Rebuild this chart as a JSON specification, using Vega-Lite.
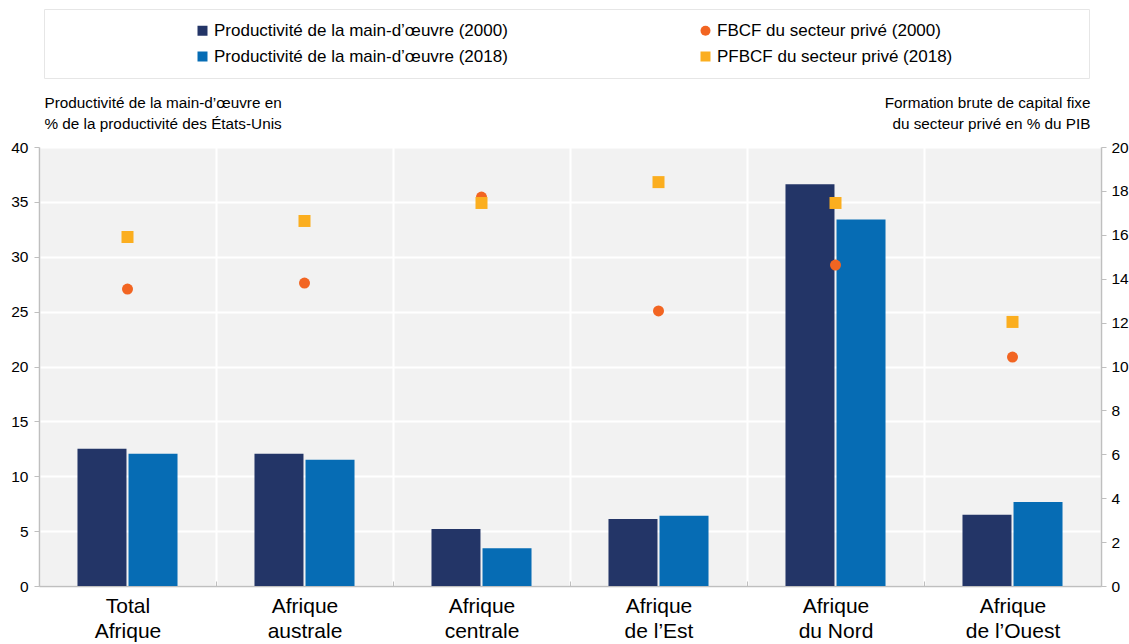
{
  "$schema": "https://vega.github.io/schema/vega-lite/v6.json",
  "width": 1062,
  "height": 439,
  "autosize": "none",
  "padding": {"left": 39, "top": 147, "right": 28, "bottom": 58},
  "background": "white",
  "config": {
    "font": "Liberation Sans, Arial, sans-serif",
    "view": {"fill": "#f2f2f2", "stroke": null},
    "axis": {"labelColor": "#000000", "titleColor": "#000000", "titleFontWeight": "normal", "domainColor": "#bfbfbf", "tickColor": "#bfbfbf", "domainWidth": 1.5}
  },
  "datasets": {
    "bars": [
      {"region": "Total Afrique", "series": "Productivité de la main-d’œuvre (2000)", "value": 12.5},
      {"region": "Total Afrique", "series": "Productivité de la main-d’œuvre (2018)", "value": 12.05},
      {"region": "Afrique australe", "series": "Productivité de la main-d’œuvre (2000)", "value": 12.05},
      {"region": "Afrique australe", "series": "Productivité de la main-d’œuvre (2018)", "value": 11.5},
      {"region": "Afrique centrale", "series": "Productivité de la main-d’œuvre (2000)", "value": 5.2},
      {"region": "Afrique centrale", "series": "Productivité de la main-d’œuvre (2018)", "value": 3.45},
      {"region": "Afrique de l’Est", "series": "Productivité de la main-d’œuvre (2000)", "value": 6.1},
      {"region": "Afrique de l’Est", "series": "Productivité de la main-d’œuvre (2018)", "value": 6.4},
      {"region": "Afrique du Nord", "series": "Productivité de la main-d’œuvre (2000)", "value": 36.6},
      {"region": "Afrique du Nord", "series": "Productivité de la main-d’œuvre (2018)", "value": 33.4},
      {"region": "Afrique de l’Ouest", "series": "Productivité de la main-d’œuvre (2000)", "value": 6.5},
      {"region": "Afrique de l’Ouest", "series": "Productivité de la main-d’œuvre (2018)", "value": 7.65}
    ],
    "points": [
      {"region": "Total Afrique", "series": "FBCF du secteur privé (2000)", "value": 13.53},
      {"region": "Afrique australe", "series": "FBCF du secteur privé (2000)", "value": 13.8},
      {"region": "Afrique centrale", "series": "FBCF du secteur privé (2000)", "value": 17.72},
      {"region": "Afrique de l’Est", "series": "FBCF du secteur privé (2000)", "value": 12.53},
      {"region": "Afrique du Nord", "series": "FBCF du secteur privé (2000)", "value": 14.62},
      {"region": "Afrique de l’Ouest", "series": "FBCF du secteur privé (2000)", "value": 10.43},
      {"region": "Total Afrique", "series": "PFBCF du secteur privé (2018)", "value": 15.9},
      {"region": "Afrique australe", "series": "PFBCF du secteur privé (2018)", "value": 16.63},
      {"region": "Afrique centrale", "series": "PFBCF du secteur privé (2018)", "value": 17.45},
      {"region": "Afrique de l’Est", "series": "PFBCF du secteur privé (2018)", "value": 18.4},
      {"region": "Afrique du Nord", "series": "PFBCF du secteur privé (2018)", "value": 17.45},
      {"region": "Afrique de l’Ouest", "series": "PFBCF du secteur privé (2018)", "value": 12.03}
    ]
  },
  "layer": [
    {
      "data": {"name": "bars"},
      "mark": {"type": "bar"},
      "encoding": {
        "x": {
          "field": "region", "type": "nominal",
          "sort": ["Total Afrique", "Afrique australe", "Afrique centrale", "Afrique de l’Est", "Afrique du Nord", "Afrique de l’Ouest"],
          "scale": {"paddingInner": 0, "paddingOuter": 0},
          "axis": {
            "title": null, "labelAngle": 0, "labelFontSize": 21, "labelLineHeight": 25,
            "labelExpr": "[slice(datum.label, 0, indexof(datum.label, ' ')), slice(datum.label, indexof(datum.label, ' ') + 1)]",
            "tickBand": "extent", "grid": true, "gridColor": "white", "gridWidth": 2,
            "tickSize": -5, "labelPadding": 14, "labelBaseline": "top"
          }
        },
        "xOffset": {
          "field": "series", "type": "nominal",
          "sort": ["Productivité de la main-d’œuvre (2000)", "Productivité de la main-d’œuvre (2018)"],
          "scale": {"paddingInner": 0.04, "paddingOuter": 0.754}
        },
        "y": {
          "field": "value", "type": "quantitative",
          "scale": {"domain": [0, 40]},
          "axis": {
            "values": [0, 5, 10, 15, 20, 25, 30, 35, 40],
            "grid": true, "gridColor": "white", "gridWidth": 2,
            "labelFontSize": 15.5, "tickSize": 5, "labelPadding": 6,
            "title": ["Productivité de la main-d’œuvre en", "% de la productivité des États-Unis"],
            "titleAngle": 0, "titleAlign": "left", "titleBaseline": "top",
            "titleX": 5, "titleY": -52, "titleFontSize": 15.3, "titleLineHeight": 21
          }
        },
        "color": {
          "field": "series", "type": "nominal",
          "scale": {
            "domain": ["Productivité de la main-d’œuvre (2000)", "Productivité de la main-d’œuvre (2018)", "FBCF du secteur privé (2000)", "PFBCF du secteur privé (2018)"],
            "range": ["#233567", "#066cb4", "#f26522", "#fbae1f"]
          },
          "legend": {
            "orient": "none", "legendX": 5, "legendY": -138,
            "columns": 2, "title": null, "gridAlign": "each",
            "labelExpr": "indexof(datum.label, 'FBCF') >= 0 ? datum.label + '\u00a0\u00a0\u00a0\u00a0\u00a0\u00a0\u00a0\u00a0\u00a0\u00a0\u00a0\u00a0\u00a0\u00a0\u00a0\u00a0\u00a0\u00a0\u00a0\u00a0\u00a0\u00a0\u00a0\u00a0\u00a0\u00a0\u200b' : datum.label",
            "symbolOffset": 137, "columnPadding": 52, "rowPadding": 8, "padding": 13,
            "strokeColor": "#e6e6e6", "fillColor": "white",
            "labelFontSize": 17, "labelLimit": 700, "labelOffset": 3,
            "symbolSize": 100, "symbolStrokeWidth": 0
          }
        }
      }
    },
    {
      "data": {"name": "points"},
      "mark": {"type": "point", "filled": true, "opacity": 1},
      "encoding": {
        "x": {
          "field": "region", "type": "nominal",
          "sort": ["Total Afrique", "Afrique australe", "Afrique centrale", "Afrique de l’Est", "Afrique du Nord", "Afrique de l’Ouest"]
        },
        "y": {
          "field": "value", "type": "quantitative",
          "scale": {"domain": [0, 20]},
          "axis": {
            "orient": "right", "grid": false,
            "values": [0, 2, 4, 6, 8, 10, 12, 14, 16, 18, 20],
            "labelFontSize": 15.5, "tickSize": 5, "labelPadding": 5,
            "title": ["Formation brute de capital fixe", "du secteur privé en % du PIB"],
            "titleAngle": 0, "titleAlign": "right", "titleBaseline": "top",
            "titleX": -11, "titleY": -52, "titleFontSize": 15.3, "titleLineHeight": 21
          }
        },
        "color": {"field": "series", "type": "nominal"},
        "shape": {
          "field": "series", "type": "nominal",
          "scale": {
            "domain": ["Productivité de la main-d’œuvre (2000)", "Productivité de la main-d’œuvre (2018)", "FBCF du secteur privé (2000)", "PFBCF du secteur privé (2018)"],
            "range": ["square", "square", "circle", "square"]
          }
        },
        "size": {
          "field": "series", "type": "nominal",
          "scale": {"domain": ["FBCF du secteur privé (2000)", "PFBCF du secteur privé (2018)"], "range": [121, 144]},
          "legend": null
        }
      }
    }
  ],
  "resolve": {"scale": {"y": "independent"}}
}
